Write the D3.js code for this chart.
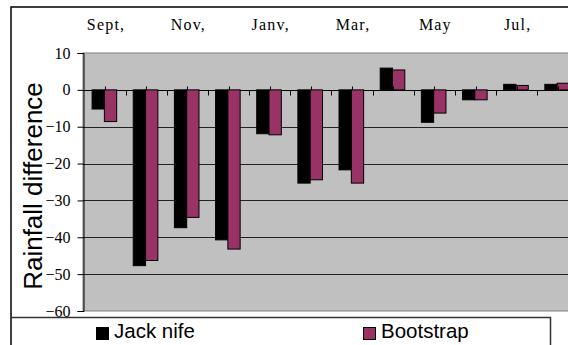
<!DOCTYPE html>
<html>
<head>
<meta charset="utf-8">
<script src="https://cdn.jsdelivr.net/npm/d3@7"></script>
<style>
  html, body { margin: 0; padding: 0; background: #fff; overflow: hidden; }
  svg { display: block; }
  .serif { font-family: "Liberation Serif", "Times New Roman", serif; font-size: 16px; fill: #000; }
  .month { letter-spacing: 1.2px; }
  .sans { font-family: "Liberation Sans", Arial, sans-serif; fill: #000; }
</style>
</head>
<body>
<script>
// Monthly rainfall difference, two resampling estimates
const months = ["Sept", "Oct", "Nov", "Dec", "Janv", "Feb", "Mar", "Apr", "May", "Jun", "Jul", "Aug"];
const monthLabels = ["Sept,", "", "Nov,", "", "Janv,", "", "Mar,", "", "May", "", "Jul,", ""];
const jackKnife = [-5.2, -47.7, -37.4, -40.7, -11.9, -25.3, -21.7, 5.9, -8.8, -2.7, 1.5, 1.5];
const bootstrap = [-8.6, -46.3, -34.6, -43.2, -12.2, -24.4, -25.3, 5.4, -6.3, -2.7, 1.2, 1.8];
const seriesNames = ["Jack nife", "Bootstrap"];
const seriesColors = ["#000000", "#993366"];
const yTicks = [10, 0, -10, -20, -30, -40, -50, -60];

const W = 568, H = 345;
const plot = { left: 83, right: 578, top: 53, bottom: 311 };

const svg = d3.select("body").append("svg")
  .attr("width", W).attr("height", H);

// chart frame
svg.append("rect")
  .attr("x", 11).attr("y", 7).attr("width", 600).attr("height", 400)
  .attr("fill", "#fff").attr("stroke", "#000").attr("stroke-width", 1.5);

const y = d3.scaleLinear().domain([-60, 10]).range([plot.bottom, plot.top]);
const x = d3.scaleBand().domain(months).range([84.5, 84.5 + 12 * 41.16]).padding(0);
const xs = d3.scaleBand().domain(seriesNames).range([-13, 11.6]).padding(0);

// plot area
svg.append("rect")
  .attr("x", plot.left).attr("y", plot.top)
  .attr("width", plot.right - plot.left).attr("height", plot.bottom - plot.top)
  .attr("fill", "#c0c0c0").attr("stroke", "#808080").attr("stroke-width", 1);

// gridlines
svg.append("g").selectAll("line")
  .data(yTicks.filter(d => d > -60 && d < 10))
  .join("line")
  .attr("x1", plot.left).attr("x2", plot.right)
  .attr("y1", d => Math.round(y(d)) + 0.5).attr("y2", d => Math.round(y(d)) + 0.5)
  .attr("stroke", d => d === 0 ? "#000" : "#222").attr("stroke-width", 1);

// bars
const rows = months.map((m, i) => ({ m, vals: [jackKnife[i], bootstrap[i]] }));
const groups = svg.append("g").selectAll("g")
  .data(rows).join("g")
  .attr("transform", d => `translate(${x(d.m) + x.bandwidth() / 2},0)`);
groups.selectAll("rect")
  .data(d => d.vals.map((v, k) => ({ v, k })))
  .join("rect")
  .attr("x", d => xs(seriesNames[d.k]))
  .attr("width", xs.bandwidth())
  .attr("y", d => y(Math.max(0, d.v)))
  .attr("height", d => Math.abs(y(d.v) - y(0)))
  .attr("fill", d => seriesColors[d.k])
  .attr("stroke", "#000").attr("stroke-width", 1);

// category axis at zero: ticks between categories below, at centres above
const y0 = Math.round(y(0)) + 0.5;
svg.append("g").selectAll("line")
  .data(months.slice(1))
  .join("line")
  .attr("x1", d => Math.round(x(d)) + 0.5).attr("x2", d => Math.round(x(d)) + 0.5)
  .attr("y1", y0).attr("y2", y0 + 5)
  .attr("stroke", "#000");
svg.append("g").selectAll("line")
  .data(months)
  .join("line")
  .attr("x1", d => Math.round(x(d) + x.bandwidth() / 2) + 0.5)
  .attr("x2", d => Math.round(x(d) + x.bandwidth() / 2) + 0.5)
  .attr("y1", y0 - 4).attr("y2", y0)
  .attr("stroke", "#000");

// month labels along the top
svg.append("g").selectAll("text")
  .data(months.map((m, i) => ({ m, label: monthLabels[i] })).filter(d => d.label))
  .join("text")
  .attr("class", "serif month")
  .attr("x", d => x(d.m) + x.bandwidth() / 2 + 1)
  .attr("y", 30)
  .attr("text-anchor", "middle")
  .text(d => d.label);

// value axis
const yAxis = d3.axisLeft(y).tickValues(yTicks).tickSize(6).tickPadding(7);
const ga = svg.append("g").attr("transform", `translate(${plot.left + 0.5},0)`).call(yAxis);
ga.attr("font-family", null).attr("font-size", null);
ga.select(".domain").attr("stroke", "#000");
ga.selectAll(".tick line").attr("stroke", "#000");
ga.selectAll(".tick text").attr("class", "serif").attr("fill", "#000");

// value axis title
svg.append("text")
  .attr("class", "sans")
  .attr("transform", "translate(42,186) rotate(-90)")
  .attr("text-anchor", "middle")
  .style("font-size", "26px")
  .text("Rainfall difference");

// legend
svg.append("path")
  .attr("d", "M11,317.5 H550.5 V345")
  .attr("fill", "none").attr("stroke", "#333").attr("stroke-width", 1.5);
const legendX = [96, 363];
const leg = svg.append("g").selectAll("g")
  .data(seriesNames).join("g")
  .attr("transform", (d, i) => `translate(${legendX[i]},0)`);
leg.append("rect")
  .attr("x", 0.5).attr("y", 327.5).attr("width", 12).attr("height", 12)
  .attr("fill", (d, i) => seriesColors[i]).attr("stroke", "#000");
leg.append("text")
  .attr("class", "sans")
  .attr("x", 18).attr("y", 338)
  .style("font-size", "20.5px")
  .text(d => d);
</script>
</body>
</html>
